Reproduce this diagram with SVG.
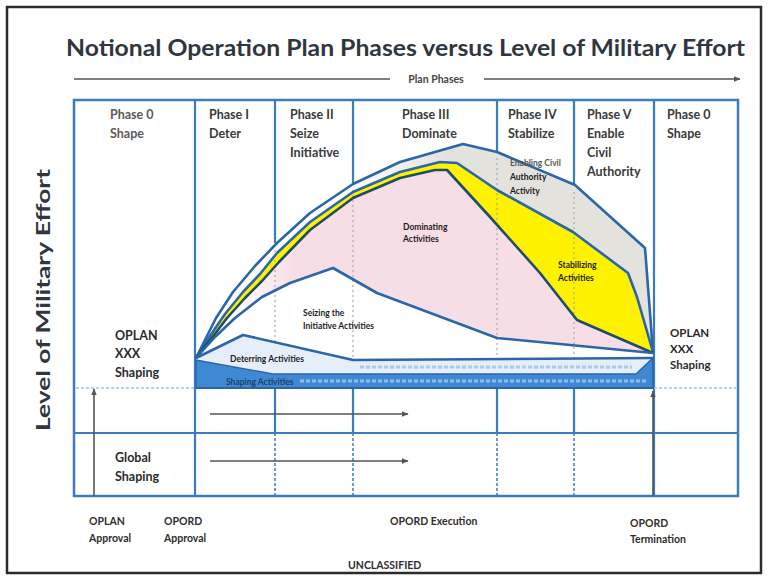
<svg xmlns="http://www.w3.org/2000/svg" width="767" height="577" viewBox="0 0 767 577">
<style>
  .t { font-family: Lato, "Liberation Sans", sans-serif; font-weight: bold; }
  .ph { font-size: 12.5px; fill: #3a3a3a; }
  .act { font-size: 8.5px; fill: #1c1c1c; }
  .big { font-size: 12.5px; fill: #2a2a2a; }
  .bot { font-size: 10.5px; fill: #2e2e2e; }
  .div { stroke: #3b7cc0; stroke-width: 2.2; fill: none; }
  .dash { stroke: #3b7cc0; stroke-width: 1.5; stroke-dasharray: 3 2; fill: none; }
  .dot { stroke: #a8a8a8; stroke-width: 1.2; stroke-dasharray: 2 3; fill: none; }
  .cur { stroke: #2a66a8; stroke-width: 2.6; fill: none; stroke-linejoin: round; }
  .drk { stroke: #1f4c69; stroke-width: 2.6; fill: none; stroke-linejoin: round; }
  .arr { stroke: #555; stroke-width: 1.6; fill: none; marker-end: url(#ah); }
</style>
<defs>
  <marker id="ah" viewBox="0 0 10 10" refX="9" refY="5" markerWidth="7" markerHeight="7" orient="auto" markerUnits="userSpaceOnUse">
    <path d="M0,1 L10,5 L0,9 z" fill="#555"/>
  </marker>
  <linearGradient id="gray" gradientUnits="userSpaceOnUse" x1="196" y1="0" x2="653" y2="0">
    <stop offset="0" stop-color="#ffffff"/>
    <stop offset="0.33" stop-color="#ffffff"/>
    <stop offset="0.55" stop-color="#e4e2dc"/>
    <stop offset="1" stop-color="#e4e2dc"/>
  </linearGradient>
  <linearGradient id="pink" gradientUnits="userSpaceOnUse" x1="196" y1="0" x2="653" y2="0">
    <stop offset="0" stop-color="#ffffff"/>
    <stop offset="0.08" stop-color="#ffffff"/>
    <stop offset="0.22" stop-color="#f7dde5"/>
    <stop offset="1" stop-color="#f7dde5"/>
  </linearGradient>
</defs>

<rect x="0" y="0" width="767" height="577" fill="#ffffff"/>
<rect id="frame" x="7" y="7" width="754" height="566" fill="#ffffff" stroke="#2b2b2b" stroke-width="2.5"/>

<g id="title">
  <text class="t" x="66" y="56" font-size="23" fill="#2f3640" textLength="679" lengthAdjust="spacingAndGlyphs">Notional Operation Plan Phases versus Level of Military Effort</text>
</g>

<g id="plan-phases">
  <line x1="74" y1="79" x2="390" y2="79" stroke="#555" stroke-width="1.6"/>
  <line class="arr" x1="484" y1="79" x2="740" y2="79"/>
  <text class="t" x="436" y="83" font-size="10.5" fill="#444" text-anchor="middle">Plan Phases</text>
</g>

<g id="y-axis">
  <text class="t" transform="translate(50,300) rotate(-90)" font-size="19.5" fill="#2f3640" text-anchor="middle" textLength="262" lengthAdjust="spacingAndGlyphs">Level of Military Effort</text>
</g>

<g id="chart-grid">
  <rect x="74" y="100" width="664" height="396" fill="#ffffff" stroke="#3b7cc0" stroke-width="2.5"/>
  <line class="div" x1="195" y1="100" x2="195" y2="496"/>
  <line class="div" x1="275" y1="100" x2="275" y2="243"/>
  <line class="div" x1="353" y1="100" x2="353" y2="184"/>
  <line class="div" x1="497" y1="100" x2="497" y2="152"/>
  <line class="div" x1="574" y1="100" x2="574" y2="186"/>
  <line class="div" x1="654" y1="100" x2="654" y2="496"/>
  <line class="div" x1="275" y1="388" x2="275" y2="433"/>
  <line class="div" x1="353" y1="388" x2="353" y2="433"/>
  <line class="div" x1="497" y1="388" x2="497" y2="433"/>
  <line class="div" x1="574" y1="388" x2="574" y2="433"/>
  <line class="dash" x1="275" y1="433" x2="275" y2="496"/>
  <line class="dash" x1="353" y1="433" x2="353" y2="496"/>
  <line class="dash" x1="497" y1="433" x2="497" y2="496"/>
  <line class="dash" x1="574" y1="433" x2="574" y2="496"/>
  <line class="div" x1="74" y1="433" x2="738" y2="433"/>
  <line x1="76" y1="388" x2="195" y2="388" stroke="#9cc3e8" stroke-width="1.5" stroke-dasharray="3 2"/>
  <line x1="654" y1="388" x2="736" y2="388" stroke="#9cc3e8" stroke-width="1.5" stroke-dasharray="3 2"/>
</g>

<g id="phase-labels">
  <text class="t ph" x="110" y="119" fill="#5a5a5a" style="fill:#5a5a5a">Phase 0</text>
  <text class="t ph" x="110" y="138" style="fill:#5a5a5a">Shape</text>
  <text class="t ph" x="209" y="119">Phase I</text>
  <text class="t ph" x="209" y="138">Deter</text>
  <text class="t ph" x="290" y="119">Phase II</text>
  <text class="t ph" x="290" y="138">Seize</text>
  <text class="t ph" x="290" y="157">Initiative</text>
  <text class="t ph" x="402" y="119">Phase III</text>
  <text class="t ph" x="402" y="138">Dominate</text>
  <text class="t ph" x="508" y="119">Phase IV</text>
  <text class="t ph" x="508" y="138">Stabilize</text>
  <text class="t ph" x="587" y="119">Phase V</text>
  <text class="t ph" x="587" y="138">Enable</text>
  <text class="t ph" x="587" y="157">Civil</text>
  <text class="t ph" x="587" y="176">Authority</text>
  <text class="t ph" x="667" y="119">Phase 0</text>
  <text class="t ph" x="667" y="138">Shape</text>
</g>

<g id="enabling-region">
  <polygon fill="url(#gray)" points="196,358 205,340 216,318 233,292 255,266 277,243 310,213 353,184 400,162 463,144 497,152 575,185 645,248 653,352 637,297 628,273 573,232 497,190 457,163 440,162 400,172 353,192 310,222 277,253 260,274 243,292 225,314 210,336"/>
</g>
<g id="stabilizing-region">
  <polygon fill="#fff200" points="196,358 210,336 225,314 243,292 260,274 277,253 310,222 353,192 400,172 440,162 457,163 497,190 573,232 628,273 637,297 653,352 577,320 540,273 490,217 447,170 435,170 400,178 353,198 310,230 279,262 262,281 245,298 227,318 211,339"/>
</g>
<g id="dominating-region">
  <polygon fill="url(#pink)" points="196,358 211,339 227,318 245,298 262,281 279,262 310,230 353,198 400,178 435,170 447,170 490,217 540,273 577,320 653,353 497,338 377,293 333,268 290,283 262,297 235,318 215,337"/>
</g>
<g id="deterring-region">
  <polygon fill="#e6eff9" points="196,358 243,335 353,360 653,358 648,362 636,374 273,374"/>
  <line x1="360" y1="367" x2="632" y2="367" stroke="#a9cbed" stroke-width="3" stroke-dasharray="4 2"/>
</g>
<g id="shaping-band">
  <polygon fill="#3f89d4" stroke="#2a66a8" stroke-width="1.5" points="196,360 273,374 636,374 653,358 653,388 196,388"/>
  <line x1="300" y1="381" x2="646" y2="381" stroke="#8fbdea" stroke-width="3" stroke-dasharray="4 2"/>
  <line x1="196" y1="388" x2="654" y2="388" stroke="#2a66a8" stroke-width="2"/>
</g>

<g id="dotted-dividers">
  <line class="dot" x1="275" y1="250" x2="275" y2="345"/>
  <line class="dot" x1="353" y1="190" x2="353" y2="358"/>
  <line class="dot" x1="497" y1="158" x2="497" y2="358"/>
  <line class="dot" x1="574" y1="192" x2="574" y2="358"/>
</g>

<g id="connectors">
  <polyline class="cur" points="196,358 205,340 216,318 233,292 255,266 277,243 310,213 353,184 400,162 463,144 497,152 575,185 645,248 653,352"/>
  <polyline class="cur" points="196,358 210,336 225,314 243,292 260,274 277,253 310,222 353,192 400,172 440,162 457,163 497,190 573,232 628,273 637,297 653,352"/>
  <polyline class="drk" points="196,358 211,339 227,318 245,298 262,281 279,262 310,230 353,198 400,178 435,170 447,170 490,217 540,273 577,320 653,353"/>
  <polyline class="cur" points="196,358 215,337 235,318 262,297 290,283 333,268 377,293 497,338 653,353"/>
  <polyline class="cur" points="196,358 243,335 353,360 653,358"/>
  <line class="arr" x1="94" y1="496" x2="94" y2="389"/>
  <line class="arr" x1="653" y1="496" x2="653" y2="391"/>
  <line class="arr" x1="210" y1="414" x2="408" y2="414"/>
  <line class="arr" x1="210" y1="461" x2="408" y2="461"/>
</g>

<g id="activity-labels">
  <text class="t act" x="510" y="166" style="fill:#555">Enabling Civil</text>
  <text class="t act" x="510" y="180">Authority</text>
  <text class="t act" x="510" y="194">Activity</text>
  <text class="t act" x="403" y="230">Dominating</text>
  <text class="t act" x="403" y="242">Activities</text>
  <text class="t act" x="558" y="268">Stabilizing</text>
  <text class="t act" x="558" y="281">Activities</text>
  <text class="t act" x="303" y="316">Seizing the</text>
  <text class="t act" x="303" y="329">Initiative Activities</text>
  <text class="t act" x="230" y="362">Deterring Activities</text>
  <text class="t act" x="226" y="385" style="fill:#1d3f66">Shaping Activities</text>
</g>

<g id="side-labels">
  <text class="t big" x="115" y="340">OPLAN</text>
  <text class="t big" x="115" y="358">XXX</text>
  <text class="t big" x="115" y="377">Shaping</text>
  <text class="t big" x="670" y="337" font-size="11.5" style="font-size:11.5px">OPLAN</text>
  <text class="t big" x="670" y="353" style="font-size:11.5px">XXX</text>
  <text class="t big" x="670" y="369" style="font-size:11.5px">Shaping</text>
  <text class="t big" x="115" y="462">Global</text>
  <text class="t big" x="115" y="481">Shaping</text>
</g>

<g id="milestones">
  <text class="t bot" x="89" y="525">OPLAN</text>
  <text class="t bot" x="89" y="542">Approval</text>
  <text class="t bot" x="164" y="525">OPORD</text>
  <text class="t bot" x="164" y="542">Approval</text>
  <text class="t bot" x="390" y="525">OPORD Execution</text>
  <text class="t bot" x="630" y="527">OPORD</text>
  <text class="t bot" x="630" y="543">Termination</text>
  <text class="t bot" x="348" y="569">UNCLASSIFIED</text>
</g>
</svg>
